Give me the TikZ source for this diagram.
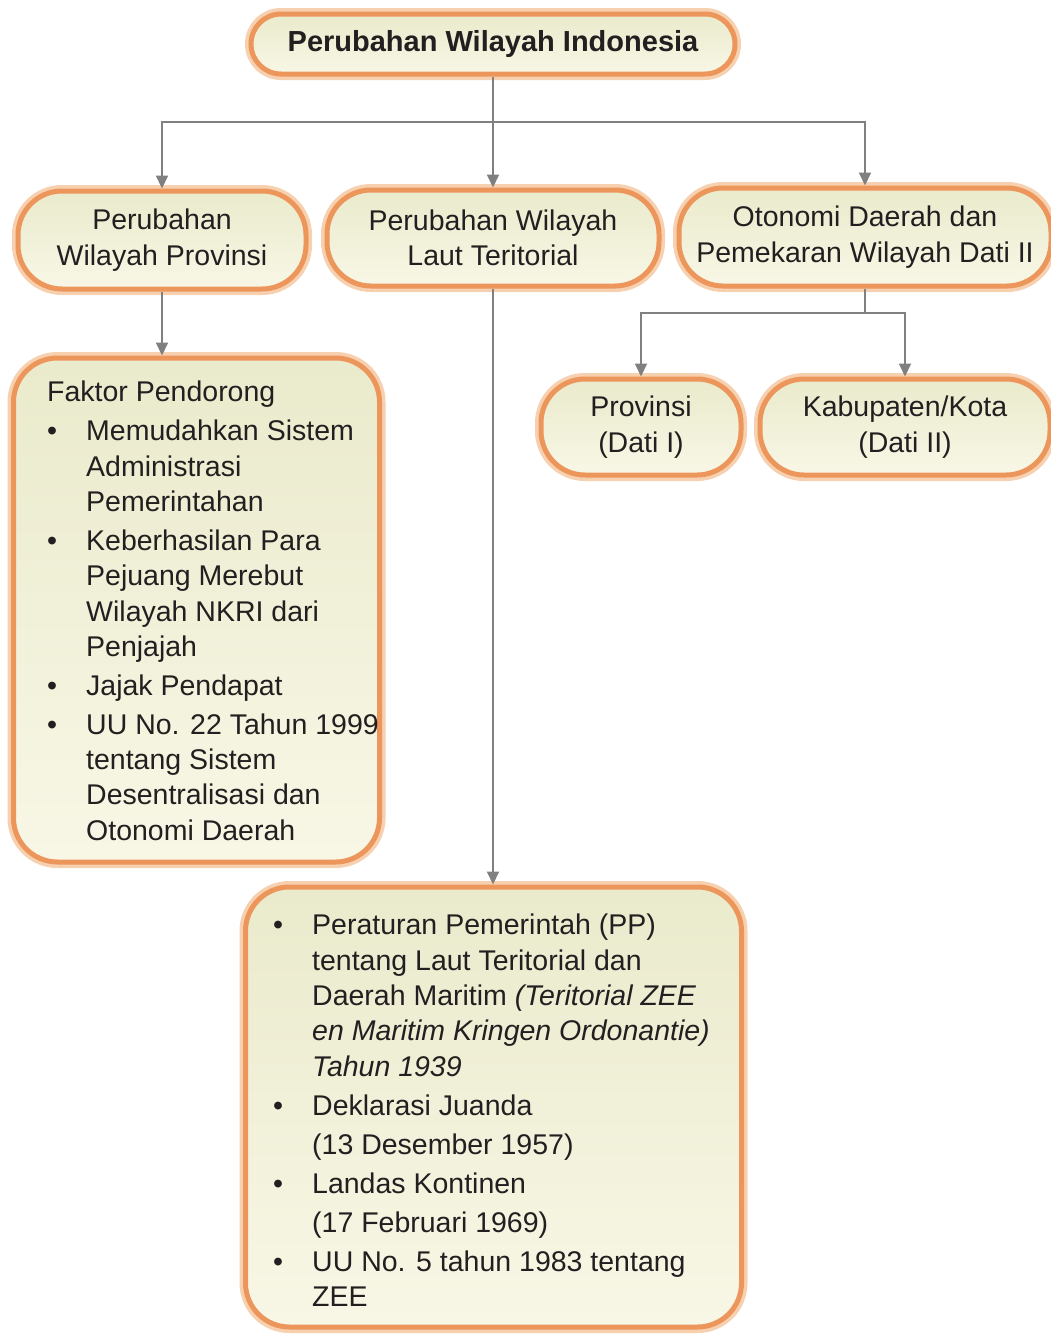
\documentclass[tikz,border=0pt]{standalone}
\usepackage{fontspec}
\setmainfont{Liberation Sans}
\usetikzlibrary{arrows.meta}
\definecolor{txt}{RGB}{35,31,32}
\definecolor{lne}{RGB}{128,128,128}
\definecolor{orng}{RGB}{236,150,92}
\definecolor{glow}{RGB}{247,208,175}
\definecolor{creamA}{RGB}{234,234,204}
\definecolor{creamB}{RGB}{248,247,230}
\newcommand\myfs{\fontsize{28.5}{35.3}\selectfont}
\newcommand\myb{\makebox[39pt][l]{\textbullet}}
\newcommand\myi{\hspace*{39pt}}
\begin{document}
\begin{tikzpicture}[x=1pt,y=-1pt,
  box/.style={draw=orng, line width=5pt, top color=creamA, bottom color=creamB,
    preaction={draw=glow, line width=12pt}, text=txt, font=\myfs, align=center, inner sep=0pt},
  pill/.style={box, rounded corners=44pt},
  panel/.style={box, rounded corners=44pt},
  listtext/.style={anchor=north west, align=left, inner sep=0pt, text=txt, font=\myfs},
  conn/.style={draw=lne, line width=2pt},
  arr/.style={conn, -{Triangle[width=12pt,length=13pt]}}]
\useasboundingbox[fill=white] (0,0) rectangle (1051,1334);

% nodes
\node[box, rounded corners=30pt, minimum width=484pt, minimum height=60pt,
      font=\fontsize{29}{35}\selectfont\bfseries] (top) at (493,44) {Perubahan Wilayah Indonesia};
\node[pill, minimum width=288pt, minimum height=98pt] (b1) at (162,240) {Perubahan\\Wilayah Provinsi};
\node[pill, minimum width=332pt, minimum height=96pt] (b2) at (493,238) {Perubahan Wilayah\\Laut Teritorial};
\node[pill, minimum width=372pt, minimum height=98pt] (b3) at (865,237) {Otonomi Daerah dan\\Pemekaran Wilayah Dati II};
\node[pill, minimum width=200pt, minimum height=96pt] (prov) at (641,427) {Provinsi\\(Dati I)};
\node[pill, minimum width=290pt, minimum height=96pt] (kab) at (905,427) {Kabupaten/Kota\\(Dati II)};
\node[panel, minimum width=366pt, minimum height=504pt] (faktor) at (196.5,610) {};
\node[panel, minimum width=496pt, minimum height=440pt] (bot) at (493.5,1107) {};

\node[listtext] (ftext) at (47,381) {Faktor Pendorong\\[3.7pt]
\myb Memudahkan Sistem\\
\myi Administrasi\\
\myi Pemerintahan\\[3.7pt]
\myb Keberhasilan Para\\
\myi Pejuang Merebut\\
\myi Wilayah NKRI dari\\
\myi Penjajah\\[3.7pt]
\myb Jajak Pendapat\\[3.7pt]
\myb UU No. 22 Tahun 1999\\
\myi tentang Sistem\\
\myi Desentralisasi dan\\
\myi Otonomi Daerah};

\node[listtext] (btext) at (273,914) {\myb Peraturan Pemerintah (PP)\\
\myi tentang Laut Teritorial dan\\
\myi Daerah Maritim \textit{(Teritorial ZEE}\\
\myi \textit{en Maritim Kringen Ordonantie)}\\
\myi \textit{Tahun 1939}\\[3.7pt]
\myb Deklarasi Juanda\\[3.7pt]
\myi (13 Desember 1957)\\[3.7pt]
\myb Landas Kontinen\\[3.7pt]
\myi (17 Februari 1969)\\[3.7pt]
\myb UU No. 5 tahun 1983 tentang\\
\myi ZEE};

% connectors
\coordinate (j1) at (493,122);
\coordinate (j2) at (865,313);
\draw[conn] (top.south) -- (j1);
\draw[arr] (j1) -| (b1);
\draw[arr] (j1) -- (b2.north);
\draw[arr] (j1) -| (b3);
\draw[arr] (b1.south) -- (b1.south |- faktor.north);
\draw[arr] (b2.south) -- (b2.south |- bot.north);
\draw[conn] (b3.south) -- (j2);
\draw[arr] (j2) -| (prov);
\draw[arr] (j2) -| (kab);
\end{tikzpicture}
\end{document}
